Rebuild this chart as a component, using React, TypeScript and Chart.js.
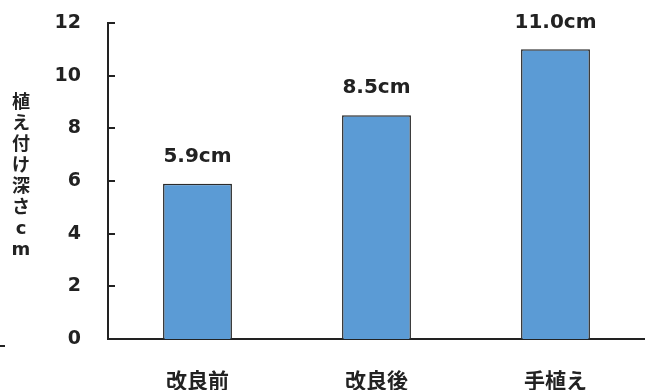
import React, { useEffect, useRef } from "react";
import { Chart, registerables } from "chart.js";

Chart.register(...registerables);

const categories = ["改良前", "改良後", "手植え"];
const values = [5.9, 8.5, 11.0];
const valueLabels = ["5.9cm", "8.5cm", "11.0cm"];
const yTitleChars = ["植", "え", "付", "け", "深", "さ", "c", "m"];
const yTicks = [0, 2, 4, 6, 8, 10, 12];

const FONT = '"DejaVu Sans", "Noto Sans CJK JP", sans-serif';
const INK = "#222222";

export default function App() {
  const ref = useRef<HTMLCanvasElement | null>(null);

  useEffect(() => {
    document.body.style.margin = "0";
    const canvas = ref.current;
    if (!canvas) return;

    const extras = {
      id: "extras",
      afterDatasetsDraw(chart: any) {
        const ctx = chart.ctx;
        const meta = chart.getDatasetMeta(0);
        ctx.save();
        ctx.fillStyle = INK;
        ctx.font = `bold 20px ${FONT}`;
        ctx.textAlign = "center";
        ctx.textBaseline = "middle";
        meta.data.forEach((el: any, i: number) => {
          ctx.fillText(valueLabels[i], el.x, el.y - 27);
        });
        ctx.restore();
      },
      afterDraw(chart: any) {
        const ctx = chart.ctx;
        const ys = chart.scales.y;
        ctx.save();
        ctx.strokeStyle = INK;
        ctx.lineWidth = 2;
        yTicks.forEach((v) => {
          const y = Math.round(ys.getPixelForValue(v));
          ctx.beginPath();
          ctx.moveTo(chart.chartArea.left, y);
          ctx.lineTo(chart.chartArea.left + 7, y);
          ctx.stroke();
        });
        ctx.fillStyle = INK;
        ctx.font = `bold 18px ${FONT}`;
        ctx.textAlign = "center";
        ctx.textBaseline = "middle";
        yTitleChars.forEach((c, i) => {
          ctx.fillText(c, 21, 103 + i * 21);
        });
        ctx.fillRect(0, 345, 5, 2);
        ctx.restore();
      },
    };

    const chart = new Chart(canvas, {
      type: "bar",
      data: {
        labels: categories,
        datasets: [
          {
            data: values,
            backgroundColor: "#5B9BD5",
            borderColor: "#2b2b2b",
            borderWidth: 1.5,
            barPercentage: 0.385,
            categoryPercentage: 1,
          },
        ],
      },
      options: {
        responsive: false,
        animation: false,
        devicePixelRatio: 1,
        layout: { padding: { top: 23, left: 0, right: 0, bottom: 0 } },
        plugins: {
          legend: { display: false },
          tooltip: { enabled: false },
        },
        scales: {
          x: {
            grid: { display: false, drawTicks: false },
            border: { display: true, color: INK, width: 2 },
            ticks: {
              color: INK,
              font: { family: FONT, size: 21, weight: "bold" },
              padding: 31,
            },
            afterFit(scale: any) {
              scale.height = 51;
              scale.paddingLeft = 0;
              scale.paddingRight = 0;
            },
          },
          y: {
            min: 0,
            max: 12,
            grid: { display: false, drawTicks: false },
            border: { display: true, color: INK, width: 2 },
            ticks: {
              stepSize: 2,
              color: INK,
              font: { family: FONT, size: 19, weight: "bold" },
              padding: 27,
            },
            afterFit(scale: any) {
              scale.width = 108;
              scale.paddingTop = 0;
              scale.paddingBottom = 0;
            },
          },
        },
      },
      plugins: [extras],
    } as any);

    return () => chart.destroy();
  }, []);

  return (
    <div style={{ width: 645, height: 390 }}>
      <canvas ref={ref} width={645} height={390} />
    </div>
  );
}
